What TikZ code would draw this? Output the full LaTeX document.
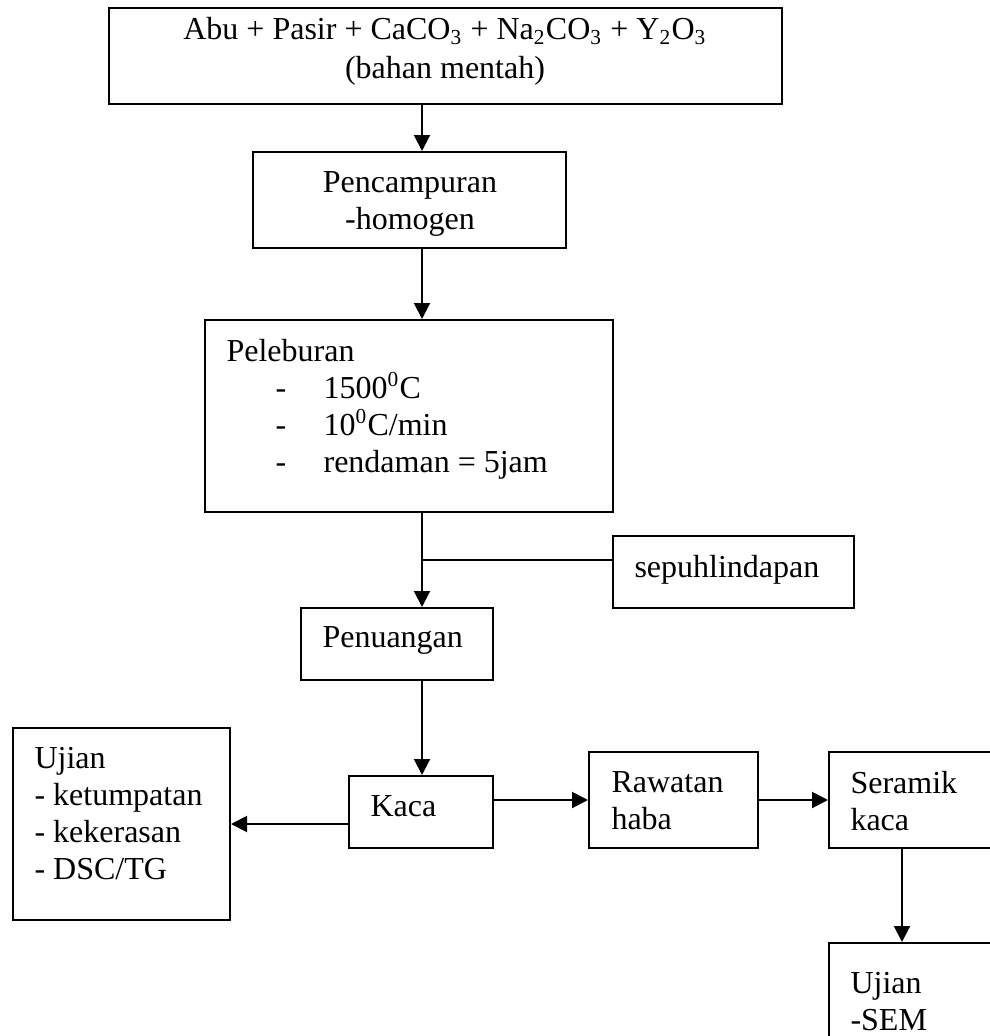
\documentclass[tikz,border=0pt]{standalone}
\usepackage{fontspec}
\setmainfont{Liberation Serif}
\usetikzlibrary{arrows.meta,fit}

\tikzset{
  box/.style={draw,line width=0.75pt,inner sep=0pt},
  txt/.style={inner sep=0pt,align=left,font=\fontsize{12pt}{13.8pt}\selectfont},
  line/.style={line width=0.75pt},
  arr/.style={line width=0.75pt,-{Triangle[length=6pt,width=6pt]}},
}
\newcommand{\itemdash}[1]{\makebox[36.4pt][l]{\hspace*{18.4pt}-}#1}

\begin{document}
\begin{tikzpicture}[x=0.375pt,y=-0.375pt]
    \clip (0,0) rectangle (990,1036);
    \fill[white] (0,0) rectangle (990,1036);
    %% boxes
    \node[box,fit={(109,8) (782,104)}] (abu) {};
    \node[box,fit={(253,152) (566,248)}] (campur) {};
    \node[box,fit={(205,320) (613,512)}] (lebur) {};
    \node[box,fit={(613,536) (854,608)}] (sepuh) {};
    \node[box,fit={(301,608) (493,680)}] (tuang) {};
    \node[box,fit={(349,776) (493,848)}] (kaca) {};
    \node[box,fit={(13,728) (230,920)}] (uji) {};
    \node[box,fit={(589,752) (758,848)}] (rawat) {};
    \node[box,fit={(829,752) (1000,848)}] (seramik) {};
    \node[box,fit={(829,943) (1000,1060)}] (sem) {};
    %% texts
    \node[txt,anchor=north,align=center] (abu text) at (445,17)
        {Abu + Pasir + CaCO\textsubscript{3} + Na\textsubscript{2}CO\textsubscript{3} + Y\textsubscript{2}O\textsubscript{3}\\[0.7pt](bahan mentah)};
    \node[txt,anchor=north,align=center] (campur text) at (410,171) {Pencampuran\\-homogen};
    \node[txt,anchor=north west] (lebur text) at (226,339)
        {Peleburan\\\itemdash{1500\textsuperscript{0}C}\\\itemdash{10\textsuperscript{0}C/min}\\\itemdash{rendaman = 5jam}};
    \node[txt,anchor=base west] (sepuh text) at (634,577) {sepuhlindapan};
    \node[txt,anchor=base west] (tuang text) at (322,647) {Penuangan};
    \node[txt,anchor=base west] (kaca text) at (370,816) {Kaca};
    \node[txt,anchor=north west] (uji text) at (34,747) {Ujian\\- ketumpatan\\- kekerasan\\- DSC/TG};
    \node[txt,anchor=north west] (rawat text) at (611,771) {Rawatan\\haba};
    \node[txt,anchor=north west] (seramik text) at (850,771) {Seramik\\kaca};
    \node[txt,anchor=north west] (sem text) at (850,972) {Ujian\\-SEM};
    %% connect
    \coordinate (spine) at (422,0);
    \coordinate (join) at (422,560);
    \coordinate (drop) at (902,0);
    \draw[arr] (abu.south -| spine) -- (campur.north -| spine);
    \draw[arr] (campur.south -| spine) -- (lebur.north -| spine);
    \draw[arr] (lebur.south -| spine) -- (tuang.north -| spine);
    \draw[line] (join) -- (join -| sepuh.west);
    \draw[arr] (tuang.south -| spine) -- (kaca.north -| spine);
    \draw[arr] (kaca.west |- uji.east) -- (uji.east);
    \draw[arr] (kaca.east |- rawat.west) -- (rawat.west);
    \draw[arr] (rawat.east) -- (seramik.west);
    \draw[arr] (seramik.south -| drop) -- (sem.north -| drop);
\end{tikzpicture}
\end{document}
